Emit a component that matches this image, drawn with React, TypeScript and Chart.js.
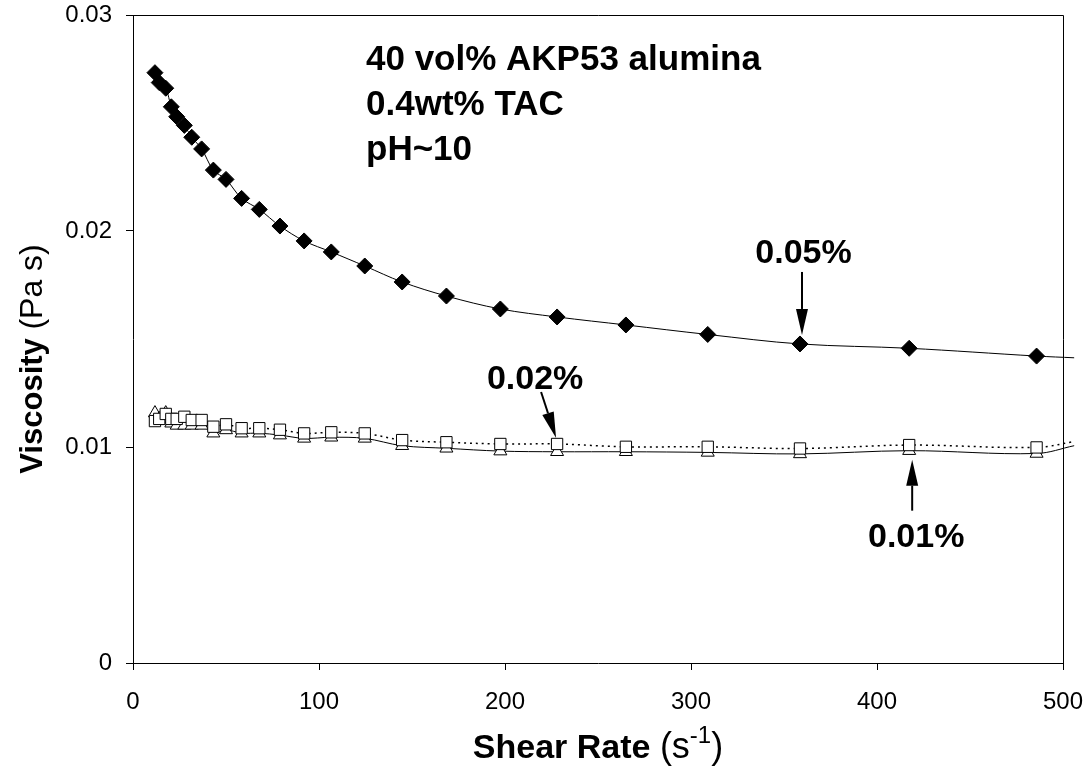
import React, { useEffect, useRef } from 'react';
import { Chart, registerables } from 'chart.js';

Chart.register(...registerables);

// ---- data ----
const shearRate = [11.8, 14.1, 17.6, 20.6, 23.5, 27.6, 31.6, 36.9, 43.2, 50.0, 58.4, 67.9, 79.0, 92.0, 106.6, 124.6, 144.7, 168.5, 197.5, 228.0, 265.0, 309.0, 358.6, 417.3, 485.8, 506.0];
const visc005 = [0.02733, 0.02687, 0.02661, 0.02575, 0.02529, 0.02489, 0.02434, 0.0238, 0.02282, 0.02239, 0.02151, 0.021, 0.02023, 0.01954, 0.01903, 0.01838, 0.01764, 0.01699, 0.01639, 0.01602, 0.01565, 0.01521, 0.01477, 0.01457, 0.01421, 0.01413];
const visc002 = [0.0112, 0.0113, 0.01153, 0.0113, 0.0113, 0.0114, 0.01125, 0.01125, 0.01094, 0.01105, 0.01087, 0.01087, 0.0108, 0.01063, 0.01068, 0.01063, 0.01032, 0.01022, 0.01014, 0.01014, 0.01001, 0.01001, 0.00993, 0.01009, 0.00998, 0.01025];
const visc001 = [0.01157, 0.0113, 0.01157, 0.0111, 0.011, 0.011, 0.011, 0.011, 0.01064, 0.01079, 0.01064, 0.01064, 0.01055, 0.0104, 0.01045, 0.0104, 0.01006, 0.00994, 0.00981, 0.00978, 0.00978, 0.00975, 0.00968, 0.00983, 0.0097, 0.01006];

const xTicks = [0, 100, 200, 300, 400, 500];
const yTicks = [0, 0.01, 0.02, 0.03];
const noteLines = ['40 vol% AKP53 alumina', '0.4wt% TAC', 'pH~10'];
const seriesLabels = ['0.05%', '0.02%', '0.01%'];
const xTitleBold = 'Shear Rate';
const xTitleUnit = ['(s', '-1', ')'];
const yTitleBold = 'Viscosity';
const yTitleUnit = '(Pa s)';

const FONT = '"Liberation Sans", Arial, Helvetica, sans-serif';

function pts(ys: number[]) {
  return shearRate.map((x, i) => ({ x, y: ys[i] }));
}

function drawArrow(ctx: CanvasRenderingContext2D, x1: number, y1: number, x2: number, y2: number) {
  const headLen = 26;
  const headW = 12;
  const ang = Math.atan2(y2 - y1, x2 - x1);
  const bx = x2 - headLen * Math.cos(ang);
  const by = y2 - headLen * Math.sin(ang);
  ctx.beginPath();
  ctx.moveTo(x1, y1);
  ctx.lineTo(bx, by);
  ctx.lineWidth = 2;
  ctx.stroke();
  ctx.beginPath();
  ctx.moveTo(x2, y2);
  ctx.lineTo(bx + (headW / 2) * Math.sin(ang), by - (headW / 2) * Math.cos(ang));
  ctx.lineTo(bx - (headW / 2) * Math.sin(ang), by + (headW / 2) * Math.cos(ang));
  ctx.closePath();
  ctx.fill();
}

const decorPlugin = {
  id: 'decor',
  beforeDatasetsDraw(chart: any) {
    const { ctx, chartArea: a } = chart;
    ctx.save();
    ctx.strokeStyle = '#000';
    ctx.lineWidth = 1;
    ctx.beginPath();
    ctx.moveTo(a.left, Math.round(a.top) + 0.5);
    ctx.lineTo(Math.round(a.right) + 0.5, Math.round(a.top) + 0.5);
    ctx.lineTo(Math.round(a.right) + 0.5, a.bottom);
    ctx.stroke();
    ctx.restore();
  },
  afterDraw(chart: any) {
    const { ctx, chartArea: a, scales } = chart;
    const xs = scales.x;
    const ys = scales.y;
    ctx.save();
    ctx.fillStyle = '#000';
    ctx.strokeStyle = '#000';

    // notes block
    ctx.font = `bold 35px ${FONT}`;
    ctx.textAlign = 'left';
    ctx.textBaseline = 'alphabetic';
    noteLines.forEach((t, i) => ctx.fillText(t, a.left + 233, a.top + 55 + i * 45));

    // series labels with arrows
    ctx.font = `bold 34px ${FONT}`;
    ctx.textAlign = 'center';
    // 0.05%
    let px = xs.getPixelForValue(shearRate[22]);
    let py = ys.getPixelForValue(visc005[22]);
    ctx.fillText(seriesLabels[0], px + 3.5, py - 81);
    drawArrow(ctx, px + 2, py - 72, px + 2, py - 9);
    // 0.02%
    px = xs.getPixelForValue(shearRate[19]);
    py = ys.getPixelForValue(visc002[19]);
    ctx.fillText(seriesLabels[1], px - 22, py - 55);
    drawArrow(ctx, px - 16, py - 52, px - 1, py - 6);
    // 0.01%
    px = xs.getPixelForValue(shearRate[23]);
    py = ys.getPixelForValue(visc001[23]);
    ctx.fillText(seriesLabels[2], px + 7, py + 96);
    drawArrow(ctx, px + 3, py + 60, px + 3, py + 9);

    // x axis title
    const cx = (a.left + a.right) / 2;
    const xBase = a.bottom + 95;
    ctx.textAlign = 'left';
    ctx.font = `bold 34px ${FONT}`;
    const wB = ctx.measureText(xTitleBold + ' ').width;
    ctx.font = `36px ${FONT}`;
    const w1 = ctx.measureText(xTitleUnit[0]).width;
    const w3 = ctx.measureText(xTitleUnit[2]).width;
    ctx.font = `24px ${FONT}`;
    const w2 = ctx.measureText(xTitleUnit[1]).width;
    let sx = cx - (wB + w1 + w2 + w3) / 2;
    ctx.font = `bold 34px ${FONT}`;
    ctx.fillText(xTitleBold, sx, xBase);
    sx += wB;
    ctx.font = `36px ${FONT}`;
    ctx.fillText(xTitleUnit[0], sx, xBase);
    sx += w1;
    ctx.font = `24px ${FONT}`;
    ctx.fillText(xTitleUnit[1], sx, xBase - 15);
    sx += w2;
    ctx.font = `36px ${FONT}`;
    ctx.fillText(xTitleUnit[2], sx, xBase);

    // y axis title (rotated)
    ctx.save();
    ctx.translate(42, 359);
    ctx.rotate(-Math.PI / 2);
    ctx.font = `bold 31px ${FONT}`;
    const yb = ctx.measureText(yTitleBold + ' ').width;
    ctx.font = `32px ${FONT}`;
    const yu = ctx.measureText(yTitleUnit).width;
    let sy = -(yb + yu) / 2;
    ctx.font = `bold 31px ${FONT}`;
    ctx.fillText(yTitleBold, sy, 0);
    sy += yb;
    ctx.font = `32px ${FONT}`;
    ctx.fillText(yTitleUnit, sy, 0);
    ctx.restore();

    ctx.restore();
  },
};

export default function App() {
  const ref = useRef<HTMLCanvasElement | null>(null);
  useEffect(() => {
    if (!ref.current) return;
    const radius = (r: number) => shearRate.map((x) => (x > 500 ? 0 : r));
    const chart = new Chart(ref.current, {
      type: 'line',
      data: {
        datasets: [
          {
            label: seriesLabels[1],
            data: pts(visc002),
            borderColor: '#000',
            borderWidth: 1.5,
            borderDash: [2, 4],
            backgroundColor: '#fff',
            pointStyle: 'rect',
            pointRadius: radius(8),
            pointBorderColor: '#000',
            pointBackgroundColor: '#fff',
            pointBorderWidth: 1,
            tension: 0.35,
            clip: false,
          } as any,
          {
            label: seriesLabels[2],
            data: pts(visc001),
            borderColor: '#000',
            borderWidth: 1,
            backgroundColor: '#fff',
            pointStyle: 'triangle',
            pointRadius: radius(7.5),
            pointBorderColor: '#000',
            pointBackgroundColor: '#fff',
            pointBorderWidth: 1,
            tension: 0.35,
            clip: false,
          } as any,
          {
            label: seriesLabels[0],
            data: pts(visc005),
            borderColor: '#000',
            borderWidth: 1,
            backgroundColor: '#000',
            pointStyle: 'rectRot',
            pointRadius: radius(8),
            pointBorderColor: '#000',
            pointBackgroundColor: '#000',
            pointBorderWidth: 1,
            tension: 0.35,
            clip: false,
          } as any,
        ],
      },
      options: {
        responsive: false,
        animation: false,
        layout: { padding: { left: 0, right: 25, top: 15, bottom: 0 } },
        plugins: { legend: { display: false }, tooltip: { enabled: false } },
        scales: {
          x: {
            type: 'linear',
            min: 0,
            max: 500,
            afterBuildTicks: (s: any) => {
              s.ticks = xTicks.map((v) => ({ value: v }));
            },
            afterFit: (s: any) => {
              s.height = 111;
              s.paddingLeft = 0;
              s.paddingRight = 0;
            },
            grid: { drawOnChartArea: false, drawTicks: true, tickLength: 7, color: '#000' },
            border: { display: true, color: '#000', width: 1 },
            ticks: { font: { family: FONT, size: 24 }, color: '#000', padding: 18, maxRotation: 0 },
          },
          y: {
            type: 'linear',
            min: 0,
            max: 0.03,
            afterBuildTicks: (s: any) => {
              s.ticks = yTicks.map((v) => ({ value: v }));
            },
            afterFit: (s: any) => {
              s.width = 133;
              s.paddingTop = 0;
              s.paddingBottom = 0;
            },
            grid: { drawOnChartArea: false, drawTicks: true, tickLength: 7, color: '#000' },
            border: { display: true, color: '#000', width: 1 },
            ticks: {
              font: { family: FONT, size: 24 },
              color: '#000',
              padding: 14,
              callback: (v: any) => (Number(v) === 0 ? '0' : Number(v).toFixed(2)),
            },
          },
        },
      } as any,
      plugins: [decorPlugin],
    });
    return () => chart.destroy();
  }, []);
  return (
    <div style={{ position: 'absolute', left: 0, top: 0, width: 1088, height: 774, background: '#fff' }}>
      <canvas ref={ref} width={1088} height={774} style={{ display: 'block', width: 1088, height: 774 }} />
    </div>
  );
}
